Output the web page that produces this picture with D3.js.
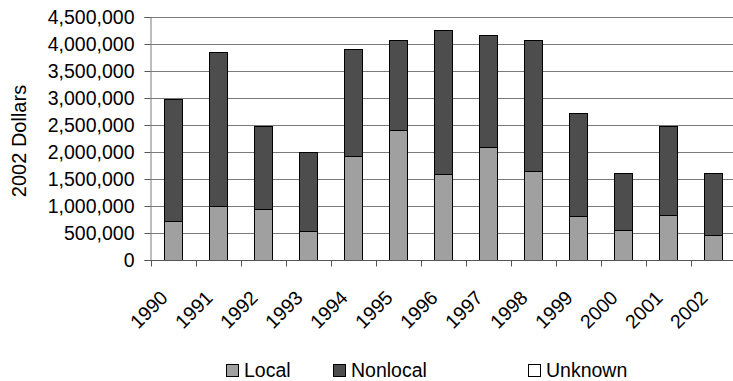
<!DOCTYPE html>
<html>
<head>
<meta charset="utf-8">
<script src="https://cdn.jsdelivr.net/npm/d3@7"></script>
<style>
  html, body { margin: 0; padding: 0; background: #fff; }
  svg text { font-family: "Liberation Sans", Arial, sans-serif; fill: #000; }
</style>
</head>
<body>
<svg id="chart" width="733" height="381"></svg>
<script>
// Annual spending, stacked by source
const years = ["1990","1991","1992","1993","1994","1995","1996","1997","1998","1999","2000","2001","2002"];
const local    = [720000, 1000000, 950000, 530000, 1930000, 2410000, 1600000, 2090000, 1640000, 810000, 550000, 830000, 460000];
const nonlocal = [2260000, 2860000, 1530000, 1470000, 1980000, 1660000, 2660000, 2080000, 2430000, 1910000, 1070000, 1650000, 1160000];
const unknown  = [0, 0, 0, 0, 0, 0, 0, 0, 0, 0, 0, 0, 0];
const seriesNames = ["Local", "Nonlocal", "Unknown"];
const seriesColors = ["#a0a0a0", "#4d4d4d", "#ffffff"];
const yTicks = [0, 500000, 1000000, 1500000, 2000000, 2500000, 3000000, 3500000, 4000000, 4500000];
const yTitle = "2002 Dollars";

const svg = d3.select("#chart");
const fontSize = 19.5;

const x = d3.scaleBand().domain(years).range([150.5, 735.5]).paddingInner(0.6).paddingOuter(0.3);
const y = d3.scaleLinear().domain([0, 4500000]).range([260, 17]);

const rows = years.map((yr, i) => ({ year: yr, Local: local[i], Nonlocal: nonlocal[i], Unknown: unknown[i] }));
const stacked = d3.stack().keys(seriesNames)(rows);

// horizontal gridlines
svg.append("g").selectAll("line").data(yTicks.filter(d => d > 0)).join("line")
  .attr("x1", 150.5).attr("x2", 733)
  .attr("y1", d => Math.round(y(d)) + 0.5).attr("y2", d => Math.round(y(d)) + 0.5)
  .attr("stroke", "#7a7a7a").attr("stroke-width", 1);

// y axis
const yAxis = d3.axisLeft(y).tickValues(yTicks).tickSize(6).tickPadding(10)
  .tickFormat(d3.format(","));
const gy = svg.append("g").attr("transform", "translate(150.5,0)").call(yAxis);
gy.select(".domain").attr("stroke", "#7a7a7a");
gy.selectAll(".tick line").attr("stroke", "#555");
gy.selectAll(".tick text").attr("font-size", fontSize).attr("font-family", "Liberation Sans, Arial, sans-serif").attr("dy", "0.34em");

// bars
svg.append("g").selectAll("g").data(stacked).join("g")
  .attr("fill", (d, i) => seriesColors[i])
  .selectAll("rect").data(d => d.filter(s => s[1] - s[0] > 0)).join("rect")
  .attr("x", d => Math.round(x(d.data.year)) + 0.5)
  .attr("width", x.bandwidth())
  .attr("y", d => Math.round(y(d[1])) + 0.5)
  .attr("height", d => Math.round(y(d[0])) - Math.round(y(d[1])))
  .attr("stroke", "#000").attr("stroke-width", 1);

// x axis with ticks between categories
const step = x.step();
const boundaries = d3.range(years.length + 1).map(i => 150.5 + i * step);
svg.append("line").attr("x1", 150.5).attr("x2", 733).attr("y1", 260.5).attr("y2", 260.5).attr("stroke", "#555");
svg.append("g").selectAll("line").data(boundaries).join("line")
  .attr("x1", d => Math.round(d) + 0.5).attr("x2", d => Math.round(d) + 0.5)
  .attr("y1", 260.5).attr("y2", 266.5).attr("stroke", "#555");

// rotated year labels
svg.append("g").selectAll("text").data(years).join("text")
  .attr("text-anchor", "end")
  .attr("font-size", fontSize)
  .attr("transform", d => `translate(${x(d) + x.bandwidth() / 2 - 4},${299}) rotate(-45)`)
  .text(d => d);

// y axis title
svg.append("text")
  .attr("transform", "translate(26,141) rotate(-90)")
  .attr("text-anchor", "middle")
  .attr("font-size", 20)
  .text(yTitle);

// legend
const legendX = [226, 333, 528];
const lg = svg.append("g").selectAll("g").data(seriesNames).join("g")
  .attr("transform", (d, i) => `translate(${legendX[i]},364)`);
lg.append("rect").attr("x", 0.5).attr("y", 0.5).attr("width", 12).attr("height", 12)
  .attr("fill", (d, i) => seriesColors[i]).attr("stroke", "#000");
lg.append("text").attr("x", 18).attr("y", 13).attr("font-size", fontSize).text(d => d);
</script>
</body>
</html>
